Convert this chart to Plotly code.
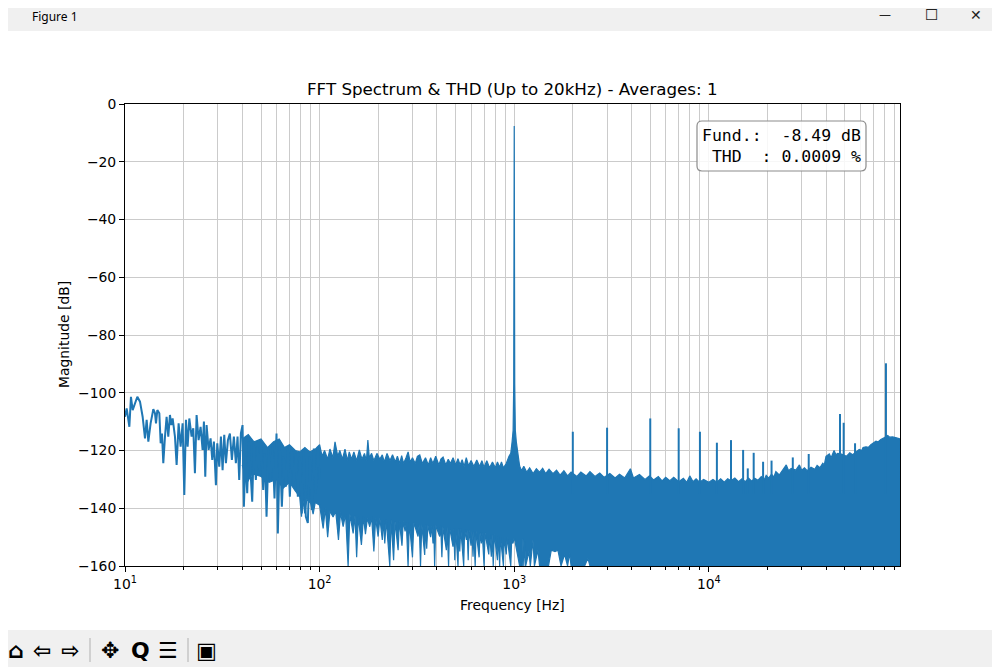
import numpy as np
import plotly.graph_objects as go

# --- spectrum ---------------------------------------------------------------
# 10-100 Hz: the trace is still a readable line here
low_freq = [10.00, 10.20, 10.53, 10.73, 10.95, 11.57, 11.94, 12.32, 12.67, 12.92,
            13.18, 13.54, 13.98, 14.26, 14.43, 14.66, 15.01, 15.25, 15.49, 15.73,
            16.05, 16.36, 16.69, 17.02, 17.29, 17.57, 18.06, 18.42, 18.86, 19.31,
            19.77, 20.17, 20.57, 20.98, 21.40, 21.99, 22.43, 22.87, 23.33, 23.89,
            24.46, 25.05, 25.44, 25.85, 26.26, 26.89, 27.53, 28.08, 28.63, 29.32,
            29.79, 30.50, 31.11, 31.73, 32.36, 33.00, 33.79, 34.59, 35.42, 36.26,
            37.13, 37.87, 38.63, 39.40, 40.18, 40.82, 41.62, 42.46, 43.30, 44.16,
            45.04, 45.93, 47.03, 47.97, 48.92, 49.90, 51.31, 52.33, 53.37, 54.64,
            55.94, 57.28, 58.65, 60.05, 61.01, 62.47, 63.97, 65.50, 67.07, 68.67,
            70.31, 71.99, 73.72, 75.48, 77.29, 79.14, 81.02, 82.96, 84.94, 86.98,
            89.06, 91.20, 93.37, 95.61, 97.90, 100.2]
low_db = [-108.3, -105.4, -111.8, -101.4, -106.0, -101.4, -103.1, -108.3, -115.8, -109.4,
          -116.9, -110.6, -105.7, -107.1, -110.6, -106.0, -107.1, -117.5, -114.1, -124.4,
          -115.2, -108.3, -115.2, -107.7, -111.2, -108.9, -115.2, -125.0, -110.6, -118.7,
          -110.6, -135.4, -109.4, -118.7, -108.9, -115.2, -112.3, -127.9, -107.7, -116.4,
          -111.8, -119.8, -110.0, -129.1, -111.2, -119.8, -115.8, -123.3, -116.9, -132.0,
          -117.5, -125.6, -115.2, -126.8, -114.6, -124.4, -116.4, -114.1, -123.3, -115.2,
          -124.4, -115.2, -130.2, -114.1, -111.2, -139.5, -122.1, -134.8, -116.9, -125.6,
          -137.7, -117.5, -130.2, -118.7, -126.8, -116.9, -133.7, -121.0, -142.9, -119.8,
          -130.2, -118.7, -136.6, -114.1, -148.7, -118.7, -139.5, -122.1, -132.5, -119.3,
          -136.0, -119.8, -131.4, -121.0, -136.0, -122.1, -141.8, -120.4, -142.9, -145.1,
          -122.1, -140.6, -119.3, -134.8, -118.7, -130.2]

# dense noise floor: top edge (incl. the 1 kHz fundamental)
floor_top_freq = [40, 43, 46, 50, 54, 58, 62, 66, 70, 75, 79, 84, 89, 95,
                  100, 103, 106, 110, 113, 117, 120, 124, 127, 131, 135, 139, 142, 146,
                  150, 155, 160, 165, 170, 174, 177, 180, 185, 190, 197, 204, 210, 215,
                  222, 230, 237, 245, 251, 258, 264, 270, 278, 285, 292, 300, 310, 318,
                  327, 337, 350, 362, 372, 382, 395, 410, 420, 431, 445, 458, 470, 485,
                  500, 514, 527, 540, 553, 567, 583, 600, 620, 642, 664, 682, 700, 723,
                  747, 773, 800, 820, 841, 860, 880, 910, 940,
                  960, 975, 987, 994, 1000, 1006, 1013, 1025, 1040,
                  1066, 1090, 1120, 1160, 1200, 1250, 1300, 1349, 1400, 1450, 1510, 1581,
                  1650, 1720, 1800, 1880, 1960, 2100, 2200, 2345, 2450, 2600, 2750, 2900,
                  3100, 3300, 3475, 3700, 3953, 4100, 4400, 4700, 4955, 5200, 5500, 5750,
                  6000, 6300, 6600, 7000, 7400, 7700, 7980, 8300, 8600, 8955, 9400, 10000,
                  10500, 11000, 11500, 12000, 12500, 13000, 13600, 14200, 14800, 15400,
                  16000, 16600, 17200, 17900, 18600, 19300, 19700, 20300, 21000, 21600,
                  22100, 23000, 24000, 25000, 25700, 26500, 28000, 29200, 30000, 31000,
                  32000, 33500, 35000, 36000, 37200, 38500, 39200, 40000, 41600, 42500,
                  44000, 45000, 46000, 48000, 51000, 53000, 54800, 57500, 59300, 61000,
                  62000, 64200, 66000, 68000, 70000, 72250, 74000, 76500, 80000, 83000,
                  85000, 88000, 92000, 96000]
floor_top_db = [-116, -114.5, -117, -116, -119, -117, -116, -119, -118, -120, -120.5, -119,
                -120.5, -119.5,
                -118, -122, -120, -123, -119.5, -122.5, -117, -122, -120, -123, -119.5,
                -123.5, -120.5, -123, -120.5, -123.5, -119.8, -123, -121, -123.5, -116.4,
                -122.5, -121, -123.5, -121, -123, -121.5, -124, -121, -123.5, -121.5, -124,
                -122, -124.5, -121.8, -124.5, -122.5, -120.5, -124, -122.5, -124.5, -122,
                -121.5, -124.5, -122.5, -125, -122.5, -124.5, -122, -125, -123, -122.3,
                -125, -123, -124.5, -122.5, -125, -122.8, -125, -123.2, -125.5, -122.5,
                -125.3, -123.5, -125.5, -123.3, -125.5, -123.5, -125.8, -123.5, -126, -124,
                -126, -124, -125.8, -124, -126, -124.5, -122,
                -121, -117, -113, -97, -7.6, -97, -113, -117, -121,
                -125.4, -127, -125.5, -127.5, -126, -128, -126.3, -127.5, -126.2, -128,
                -126.5, -128, -126.8, -128.5, -127, -128.8, -127.5, -129, -127.5, -128.8,
                -127.3, -129, -127.8, -129.3, -128, -129.5, -128.2, -129.5, -126.3, -129.5,
                -128.3, -130, -128.8, -130.2, -129, -130.5, -129.3, -130.5, -129.3, -130.8,
                -129.6, -131, -128.8, -130.8, -129.8, -131, -130, -131, -130, -131, -129.8,
                -131, -129.8, -130.5, -129.5, -130.8, -129.8, -130.8, -129.6, -130.6,
                -129.6, -130.3, -129, -130, -128.6, -129.6, -128.2, -129.2, -127.3, -128.5,
                -126.8, -125.0, -127, -126.2, -126.8, -125.0, -126.8, -126, -127, -125.8,
                -126.5, -125.2, -126, -124.4, -125, -122.0, -121.2, -122.5, -120.0, -121.5,
                -121, -121.2, -122.0, -120.8, -121.5, -120.5, -119.6, -120, -119.0, -118.7,
                -118.9, -118.0, -117.5, -116.8, -117, -116.2, -115.5, -114.8, -115.4,
                -115.3, -115.6, -116.0]

# dense noise floor: bottom edge (dips, then clipped at -160 above ~1 kHz)
floor_bottom_freq = [40, 42.5, 45, 50, 55, 60, 65, 70, 75, 79, 80.7, 82, 83.9, 86, 90, 92.6,
                     95, 100, 104.3, 107, 110, 113, 117.3, 121, 125, 128, 132.1, 136,
                     140.1, 143, 148.7, 152, 155, 158, 164, 168, 172, 176, 181, 185, 190,
                     194, 199.8, 204, 210, 213, 216.2, 220, 229.4, 233, 240, 244, 253.1,
                     257, 265, 269, 275, 279, 284.8, 289, 300, 305, 320.5, 325, 330, 335,
                     346.7, 351, 355, 360, 372, 377, 382.6, 386, 390, 395, 414, 419, 425,
                     430, 448, 452, 460, 465, 484.6, 489, 495, 500, 514.2, 519, 525, 531,
                     550, 556, 567.6, 573, 580, 586, 600, 606, 614.2, 620, 630, 637, 660,
                     667, 677.6, 685, 700, 708, 740, 748, 762.6, 770, 780, 790, 820, 830,
                     841.7, 850, 880, 888, 910, 920, 960, 970, 985, 1000, 1066,
                     1100, 1109, 1120, 1131, 1145, 1190, 1210, 1248, 1270, 1324, 1350,
                     1500, 1550, 1620, 1677, 1740, 1814, 1880, 1925, 1960, 2300, 2391,
                     2450, 96000]
floor_bottom_db = [-125, -131, -128, -129, -131, -130, -133, -131, -134, -136, -142.9, -137,
                   -141.8, -137, -138.3, -142, -138, -139, -147, -140, -150, -141, -143,
                   -141, -151, -141.5, -146.4, -142, -160, -142, -148.7, -142.5, -157, -143,
                   -152.7, -143, -149, -143.5, -146.4, -143, -155, -143.5, -149.8, -143.5,
                   -151, -144, -152.2, -144, -160, -144, -158, -144.5, -154.5, -144.5, -153,
                   -144.5, -148, -145, -160, -145, -157, -145, -149.8, -145.5, -160, -145.5,
                   -156.2, -145.5, -154, -146, -150, -146, -152.2, -146, -160, -146, -149.8,
                   -146, -157, -146.5, -154.5, -146.5, -160, -146.5, -153.3, -147, -158,
                   -147, -160, -147, -155, -147, -160, -147.5, -151, -147.5, -158, -147.5,
                   -153, -148, -156.8, -148, -160, -148, -157, -148.5, -152.2, -148.5, -160,
                   -148.5, -156, -149, -156.8, -149, -160, -149, -158, -149.5, -160, -150,
                   -160, -150, -156, -150, -160, -151, -152.2, -150, -160,
                   -160, -150.4, -160, -151.5, -160, -155, -160, -151.0, -160, -154.5, -160,
                   -160, -154.5, -155, -154.5, -160, -156, -160, -155.6, -160, -160, -157.3,
                   -160, -160]

# harmonics / spurs standing above the floor
spur_freq = [2000, 3000, 5000, 7000, 9000, 11000, 13000, 15000, 15850, 17000, 19000,
             21000, 27000, 32600, 47200, 49300, 56400, 81300]
spur_db = [-113.5, -112.1, -108.9, -112.3, -113.5, -117.3, -116.4, -119.8, -126.2, -120.8,
           -123.9, -123.5, -122.4, -121.2, -107.4, -110.4, -117.5, -89.8]
spur_base_db = -135

fund_db = -8.49
thd_pct = 0.0009

x_ticks = [10, 100, 1000, 10000]
x_tick_text = ["10<sup>1</sup>", "10<sup>2</sup>", "10<sup>3</sup>", "10<sup>4</sup>"]
x_minor = [d * 10 ** k for k in range(1, 5) for d in range(2, 10)]
y_ticks = [-160, -140, -120, -100, -80, -60, -40, -20, 0]

blue = "#1f77b4"
grid = "#cbcbcb"
font = "DejaVu Sans"

fig = go.Figure()

# noise floor as a filled band
fig.add_trace(go.Scatter(x=floor_top_freq + floor_bottom_freq[::-1],
                         y=floor_top_db + floor_bottom_db[::-1],
                         mode="lines", fill="toself", fillcolor=blue,
                         line=dict(color=blue, width=1.2), hoverinfo="skip"))

fig.add_trace(go.Scatter(x=low_freq, y=low_db, mode="lines",
                         line=dict(color=blue, width=2)))

sx, sy = [], []
for f, d in zip(spur_freq, spur_db):
    sx += [f, f, None]
    sy += [spur_base_db, d, None]
fig.add_trace(go.Scatter(x=sx, y=sy, mode="lines", line=dict(color=blue, width=2)))

# positions below are in screen pixels; the page puts the figure 8 px in from
# the top-left corner, plot area on screen is x 125..900, y 104..566
def px(x):
    return (x - 125) / 775

def py(y):
    return (566 - y) / 462

# rounded box behind the Fund./THD text
bx0, bx1, by0, by1, rad = 697, 866, 121, 171, 5
box_path = (f"M {px(bx0 + rad)},{py(by0)} L {px(bx1 - rad)},{py(by0)} "
            f"Q {px(bx1)},{py(by0)} {px(bx1)},{py(by0 + rad)} L {px(bx1)},{py(by1 - rad)} "
            f"Q {px(bx1)},{py(by1)} {px(bx1 - rad)},{py(by1)} L {px(bx0 + rad)},{py(by1)} "
            f"Q {px(bx0)},{py(by1)} {px(bx0)},{py(by1 - rad)} L {px(bx0)},{py(by0 + rad)} "
            f"Q {px(bx0)},{py(by0)} {px(bx0 + rad)},{py(by0)} Z")

shapes = [
    # window title bar and toolbar
    dict(type="rect", xref="paper", yref="paper", x0=px(0), x1=px(1000), y0=py(31), y1=py(0),
         fillcolor="#f0f0f0", line=dict(width=0), layer="below"),
    dict(type="rect", xref="paper", yref="paper", x0=px(0), x1=px(1000), y0=py(680), y1=py(630),
         fillcolor="#f0f0f0", line=dict(width=0), layer="below"),
    dict(type="line", xref="paper", yref="paper", x0=px(90), x1=px(90), y0=py(638), y1=py(662),
         line=dict(color="#b0b0b0", width=1)),
    dict(type="line", xref="paper", yref="paper", x0=px(188), x1=px(188), y0=py(638), y1=py(662),
         line=dict(color="#b0b0b0", width=1)),
    dict(type="path", xref="paper", yref="paper", path=box_path,
         fillcolor="rgba(255,255,255,0.85)", line=dict(color="#8c8c8c", width=1.2),
         layer="above"),
]

def label(text, x, y, size, **kw):
    d = dict(text=text, x=px(x), y=py(y), xref="paper", yref="paper", showarrow=False,
             xanchor="center", yanchor="middle",
             font=dict(family=kw.pop("family", font), size=size, color=kw.pop("color", "black")))
    d.update(kw)
    return d

annotations = [
    label("FFT Spectrum &amp; THD (Up to 20kHz) - Averages: 1", 512.5, 89, 16.7),
    label("Frequency [Hz]", 512.5, 605, 13.9),
    label("Magnitude [dB]", 64, 335, 13.9, textangle=-90),
    label((f"Fund.: {fund_db:6.2f} dB<br> THD  : {thd_pct:.4f} %").replace(" ", "\u00a0"),
          (bx0 + bx1) / 2, (by0 + by1) / 2, 16.5, family="DejaVu Sans Mono", align="left"),
    # window chrome
    label("Figure 1", 30, 16, 12, family="Noto Sans", xanchor="left"),
    label("\u2014", 885, 15, 12, color="#222"),
    label("\u2610", 931, 15, 15, color="#222"),
    label("\u2715", 976, 15, 14, color="#222"),
]
for xp, glyph in [(16, "\u2302"), (42, "\u21e6"), (70, "\u21e8"), (110, "\u2725"),
                  (140, "Q"), (168, "\u2630"), (206, "\u25a3")]:
    annotations.append(label("<b>" + glyph + "</b>", xp, 650, 22))

fig.update_layout(
    width=992, height=659, autosize=False,
    margin=dict(l=117, r=100, t=96, b=101),
    paper_bgcolor="white", plot_bgcolor="white",
    showlegend=False,
    shapes=shapes, annotations=annotations,
    xaxis=dict(type="log", range=[1, np.log10(96000)],
               tickvals=x_ticks, ticktext=x_tick_text,
               ticks="outside", ticklen=5, tickwidth=1, tickcolor="black",
               showline=True, linecolor="black", linewidth=1, mirror=True,
               showgrid=True, gridcolor=grid, gridwidth=1, zeroline=False,
               tickfont=dict(family=font, size=13.9, color="black"),
               minor=dict(tickvals=x_minor, ticks="outside", ticklen=3, tickcolor="black",
                          showgrid=True, gridcolor=grid, gridwidth=1)),
    yaxis=dict(range=[-160, 0], tickvals=y_ticks,
               ticks="outside", ticklen=5, tickwidth=1, tickcolor="black",
               showline=True, linecolor="black", linewidth=1, mirror=True,
               showgrid=True, gridcolor=grid, gridwidth=1, zeroline=False,
               tickfont=dict(family=font, size=13.9, color="black")),
)

fig.write_html("out.html")
